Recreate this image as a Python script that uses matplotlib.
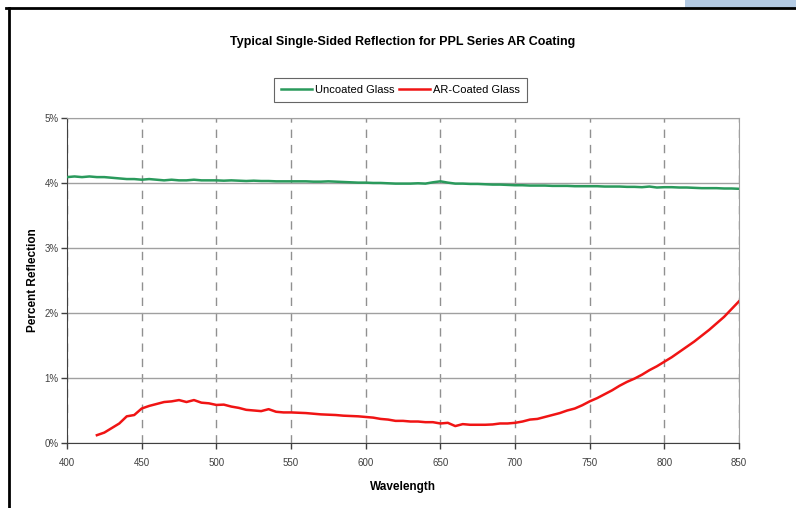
import matplotlib
matplotlib.use('Agg')
import matplotlib.pyplot as plt
from matplotlib.lines import Line2D
from matplotlib.patches import Rectangle
from matplotlib.ticker import FuncFormatter

plt.rcParams['font.family'] = ['Liberation Sans', 'DejaVu Sans']

# Uncoated glass, read every 5 nm from 400 to 850
wl_uncoated = list(range(400, 851, 5))
uncoated = [4.09, 4.10, 4.09, 4.10, 4.09, 4.09, 4.08, 4.07, 4.06, 4.06,
            4.05, 4.06, 4.05, 4.04, 4.05, 4.04, 4.04, 4.05, 4.04, 4.04,
            4.04, 4.035, 4.04, 4.035, 4.03, 4.035, 4.03, 4.03, 4.025, 4.025,
            4.025, 4.025, 4.025, 4.02, 4.02, 4.025, 4.02, 4.015, 4.01, 4.005,
            4.005, 4.0, 4.0, 3.995, 3.99, 3.99, 3.99, 3.995, 3.99, 4.01,
            4.025, 4.005, 3.99, 3.99, 3.985, 3.985, 3.98, 3.975, 3.975, 3.97,
            3.965, 3.965, 3.96, 3.96, 3.96, 3.955, 3.955, 3.955, 3.95, 3.95,
            3.95, 3.95, 3.945, 3.945, 3.945, 3.94, 3.94, 3.935, 3.945, 3.93,
            3.935, 3.935, 3.93, 3.93, 3.925, 3.92, 3.92, 3.92, 3.915, 3.915,
            3.91]

# AR-coated glass, read every 5 nm from 420 to 850
wl_coated = list(range(420, 851, 5))
coated = [0.12, 0.16, 0.23, 0.30, 0.41, 0.43, 0.53, 0.57, 0.60, 0.63,
          0.64, 0.66, 0.63, 0.66, 0.62, 0.61, 0.585, 0.59, 0.56, 0.54,
          0.51, 0.50, 0.49, 0.52, 0.48, 0.47, 0.47, 0.465, 0.46, 0.45,
          0.44, 0.435, 0.43, 0.42, 0.415, 0.41, 0.40, 0.39, 0.37, 0.36,
          0.34, 0.34, 0.33, 0.33, 0.32, 0.32, 0.30, 0.31, 0.26, 0.29,
          0.28, 0.28, 0.28, 0.285, 0.30, 0.30, 0.31, 0.33, 0.36, 0.37,
          0.40, 0.43, 0.46, 0.50, 0.53, 0.58, 0.64, 0.69, 0.75, 0.81,
          0.88, 0.94, 0.99, 1.05, 1.12, 1.18, 1.25, 1.32, 1.40, 1.48,
          1.56, 1.65, 1.74, 1.84, 1.94, 2.06, 2.18]

x_ticks = list(range(400, 851, 50))
y_ticks = [0, 1, 2, 3, 4, 5]

fig = plt.figure(figsize=(7.96, 5.08), dpi=100)
ax = fig.add_axes([0.0842, 0.128, 0.8442, 0.6398])

ax.plot(wl_uncoated, uncoated, color='#2a9a5c', lw=1.8, label='Uncoated Glass', zorder=3)
ax.plot(wl_coated, coated, color='#f01414', lw=1.8, label='AR-Coated Glass', zorder=3)

ax.set_xlim(400, 850)
ax.set_ylim(0, 5)
ax.set_xticks(x_ticks)
ax.set_yticks(y_ticks)
ax.yaxis.set_major_formatter(FuncFormatter(lambda v, p: '%d%%' % v))

ax.grid(axis='y', color='#a0a0a0', lw=1.0, ls='-')
ax.grid(axis='x', color='#909090', lw=1.0, ls=(0, (6, 5)))
ax.set_axisbelow(True)

for s in ['top', 'right']:
    ax.spines[s].set_color('#a0a0a0')
for s in ['left', 'bottom']:
    ax.spines[s].set_color('#404040')
ax.tick_params(axis='both', labelsize=7, colors='#404040', length=4, width=1)
ax.tick_params(axis='x', pad=7)
ax.tick_params(axis='y', pad=2)

ax.set_xlabel('Wavelength', fontsize=8.5, fontweight='bold', labelpad=9)
ax.set_ylabel('Percent Reflection', fontsize=8.5, fontweight='bold', labelpad=4)

fig.text(0.506, 0.917, 'Typical Single-Sided Reflection for PPL Series AR Coating',
         ha='center', va='center', fontsize=9, fontweight='bold')

leg = fig.legend(loc='center', bbox_to_anchor=(0.503, 0.823), ncol=2, fontsize=8,
                 frameon=True, fancybox=False, edgecolor='#404040', handlelength=2.8,
                 columnspacing=0.4, handletextpad=0.3, borderpad=0.6)
leg.get_frame().set_linewidth(0.8)

# page frame around the chart
fig.add_artist(Rectangle((0.86, 0.984), 0.14, 0.016, transform=fig.transFigure,
                         color='#b4cbe4', lw=0))
fig.add_artist(Line2D([0.007, 1.0], [0.984, 0.984], transform=fig.transFigure,
                      color='black', lw=2))
fig.add_artist(Line2D([0.011, 0.011], [0.0, 0.984], transform=fig.transFigure,
                      color='black', lw=2))

fig.savefig('out.png', dpi=100)
